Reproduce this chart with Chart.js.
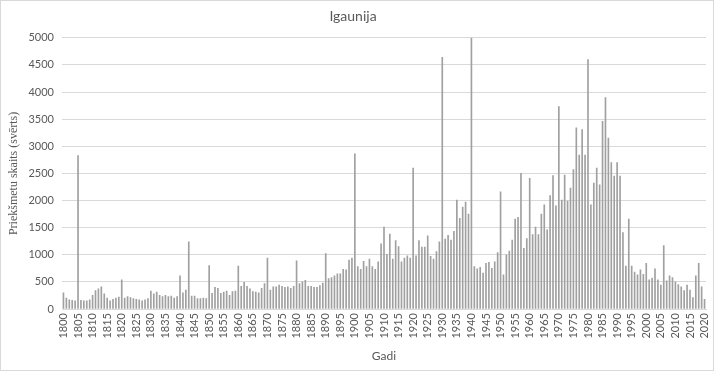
<!DOCTYPE html>
<html>
<head>
<meta charset="utf-8">
<script src="https://cdn.jsdelivr.net/npm/chart.js@4"></script>
<style>
  body { margin: 0; background: #fff; }
  #wrap { width: 714px; height: 371px; }
  canvas { outline: 1px solid #d9d9d9; outline-offset: -1px; }
</style>
</head>
<body>
<div id="wrap"><canvas id="barChart" width="714" height="371"></canvas></div>
<script>
// Data

const firstYear = 1800;
const lastYear = 2020;

const years = [];
for (let y = firstYear; y <= lastYear; y++) years.push(String(y));

// one line per decade, 1800 .. 2020
const counts = [
  300, 200, 170, 160, 150, 2830, 160, 150, 150, 170,
  250, 340, 370, 410, 280, 200, 150, 180, 200, 220,
  540, 200, 230, 210, 190, 180, 170, 150, 170, 190,
  330, 280, 310, 250, 230, 250, 230, 240, 200, 230,
  610, 300, 350, 1240, 240, 240, 190, 190, 200, 190,
  800, 290, 400, 380, 290, 310, 330, 250, 320, 330,
  790, 420, 490, 420, 370, 320, 310, 300, 380, 470,
  940, 350, 410, 410, 440, 420, 400, 410, 380, 420,
  890, 470, 500, 530, 420, 420, 400, 400, 430, 480,
  1020, 560, 580, 610, 650, 650, 730, 720, 900, 940,
  2860, 780, 730, 880, 780, 920, 780, 730, 870, 1200,
  1510, 1010, 1380, 920, 1260, 1150, 870, 940, 980, 940,
  2600, 980, 1260, 1140, 1140, 1350, 970, 920, 1060, 1240,
  4640, 1290, 1360, 1270, 1430, 2010, 1670, 1880, 1970, 1750,
  5000, 780, 740, 770, 660, 840, 860, 750, 870, 1040,
  2160, 630, 1000, 1070, 1270, 1660, 1690, 2500, 1120, 1300,
  2410, 1370, 1510, 1370, 1750, 1920, 1460, 2090, 2460, 1900,
  3730, 2010, 2470, 1990, 2230, 2570, 3340, 2840, 3310, 2840,
  4600, 1920, 2320, 2600, 2290, 3460, 3900, 3150, 2700, 2450,
  2700, 2450, 1410, 790, 1660, 790, 680, 630, 720, 640,
  840, 540, 570, 740, 540, 440, 1170, 520, 610, 580,
  500, 450, 410, 340, 440, 350, 210, 610, 840, 410,
  180
];

const yTicks = [0, 500, 1000, 1500, 2000, 2500, 3000, 3500, 4000, 4500, 5000];

const textColor = '#595959';
const gridColor = '#d9d9d9';

const barChart = new Chart(document.getElementById('barChart'), {
  type: 'bar',
  data: {
    labels: years,
    datasets: [{
      label: 'Igaunija',
      data: counts,
      backgroundColor: '#a0a0a0',
      barThickness: 1,
    }]
  },
  options: {
    responsive: false,
    animation: false,
    layout: { padding: { left: 0, right: 8, top: 0, bottom: 0 } },
    plugins: {
      legend: { display: false },
      tooltip: { enabled: false },
      title: {
        display: true,
        text: 'Igaunija',
        color: textColor,
        font: { family: 'Lato', size: 14, weight: 'normal' },
        padding: { top: 8, bottom: 13 },
      },
    },
    scales: {
      x: {
        grid: { display: false, drawTicks: false },
        border: { display: true, color: gridColor },
        ticks: {
          color: textColor,
          font: { family: 'Lato', size: 11 },
          autoSkip: false,
          maxRotation: 90,
          minRotation: 90,
          padding: 4,
          callback: function (val, i) {
            const y = years[i];
            return (Number(y) % 5 === 0) ? y : '';
          },
        },
        title: {
          display: true,
          text: 'Gadi',
          color: textColor,
          font: { family: 'Lato', size: 12 },
          padding: { top: 0, bottom: 8 },
        },
        afterFit: function (scale) {
          scale.height = 62;
          scale.paddingLeft = 0;
          scale.paddingRight = 0;
        },
      },
      y: {
        min: 0,
        max: 5000,
        afterBuildTicks: function (scale) {
          scale.ticks = yTicks.map(v => ({ value: v }));
        },
        grid: { color: gridColor, drawTicks: false },
        border: { display: false },
        ticks: {
          color: textColor,
          font: { family: 'Lato', size: 11 },
          padding: 8,
          callback: function (v) { return String(v); },
        },
        title: {
          display: true,
          text: 'Priekšmetu skaits (svērts)',
          color: textColor,
          font: { family: 'Liberation Serif', size: 12 },
          padding: { top: 7, bottom: 0 },
        },
        afterFit: function (scale) { scale.width = 62; },
      },
    },
  },
});
</script>
</body>
</html>
